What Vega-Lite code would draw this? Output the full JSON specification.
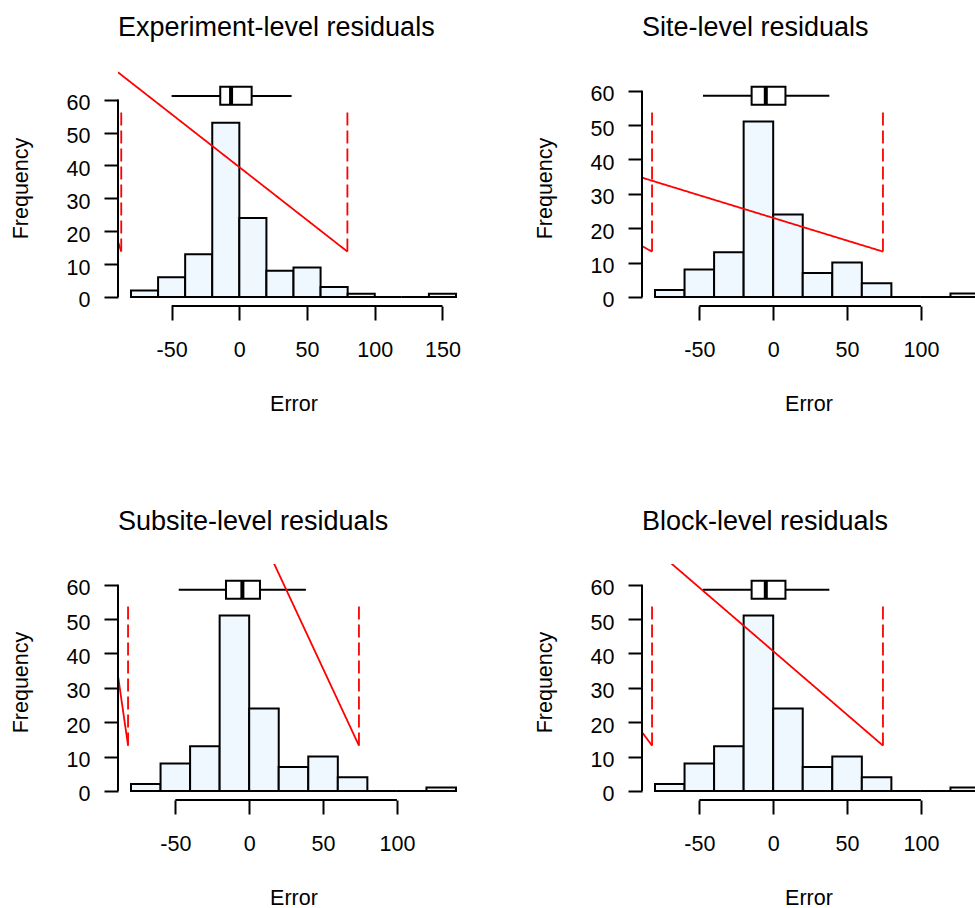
{
  "$schema": "https://vega.github.io/schema/vega-lite/v6.json",
  "background": "white",
  "padding": {"left": 10, "top": 14, "right": 0, "bottom": 0},
  "datasets": {
    "hist": [
      {"panel": 1, "lo": -80, "hi": -60, "count": 2},
      {"panel": 1, "lo": -60, "hi": -40, "count": 6},
      {"panel": 1, "lo": -40, "hi": -20, "count": 13},
      {"panel": 1, "lo": -20, "hi": 0, "count": 53},
      {"panel": 1, "lo": 0, "hi": 20, "count": 24},
      {"panel": 1, "lo": 20, "hi": 40, "count": 8},
      {"panel": 1, "lo": 40, "hi": 60, "count": 9},
      {"panel": 1, "lo": 60, "hi": 80, "count": 3},
      {"panel": 1, "lo": 80, "hi": 100, "count": 1},
      {"panel": 1, "lo": 100, "hi": 120, "count": 0},
      {"panel": 1, "lo": 120, "hi": 140, "count": 0},
      {"panel": 1, "lo": 140, "hi": 160, "count": 1},
      {"panel": 2, "lo": -80, "hi": -60, "count": 2},
      {"panel": 2, "lo": -60, "hi": -40, "count": 8},
      {"panel": 2, "lo": -40, "hi": -20, "count": 13},
      {"panel": 2, "lo": -20, "hi": 0, "count": 51},
      {"panel": 2, "lo": 0, "hi": 20, "count": 24},
      {"panel": 2, "lo": 20, "hi": 40, "count": 7},
      {"panel": 2, "lo": 40, "hi": 60, "count": 10},
      {"panel": 2, "lo": 60, "hi": 80, "count": 4},
      {"panel": 2, "lo": 80, "hi": 100, "count": 0},
      {"panel": 2, "lo": 100, "hi": 120, "count": 0},
      {"panel": 2, "lo": 120, "hi": 140, "count": 1},
      {"panel": 3, "lo": -80, "hi": -60, "count": 2},
      {"panel": 3, "lo": -60, "hi": -40, "count": 8},
      {"panel": 3, "lo": -40, "hi": -20, "count": 13},
      {"panel": 3, "lo": -20, "hi": 0, "count": 51},
      {"panel": 3, "lo": 0, "hi": 20, "count": 24},
      {"panel": 3, "lo": 20, "hi": 40, "count": 7},
      {"panel": 3, "lo": 40, "hi": 60, "count": 10},
      {"panel": 3, "lo": 60, "hi": 80, "count": 4},
      {"panel": 3, "lo": 80, "hi": 100, "count": 0},
      {"panel": 3, "lo": 100, "hi": 120, "count": 0},
      {"panel": 3, "lo": 120, "hi": 140, "count": 1},
      {"panel": 4, "lo": -80, "hi": -60, "count": 2},
      {"panel": 4, "lo": -60, "hi": -40, "count": 8},
      {"panel": 4, "lo": -40, "hi": -20, "count": 13},
      {"panel": 4, "lo": -20, "hi": 0, "count": 51},
      {"panel": 4, "lo": 0, "hi": 20, "count": 24},
      {"panel": 4, "lo": 20, "hi": 40, "count": 7},
      {"panel": 4, "lo": 40, "hi": 60, "count": 10},
      {"panel": 4, "lo": 60, "hi": 80, "count": 4},
      {"panel": 4, "lo": 80, "hi": 100, "count": 0},
      {"panel": 4, "lo": 100, "hi": 120, "count": 0},
      {"panel": 4, "lo": 120, "hi": 140, "count": 1}
    ],
    "box": [
      {"panel": 1, "wlo": -50, "whi": 38.6, "q1": -14.1, "q3": 9.1, "med": -6.1},
      {"panel": 2, "wlo": -47.5, "whi": 38, "q1": -14.6, "q3": 8.3, "med": -5.0},
      {"panel": 3, "wlo": -47.7, "whi": 38.4, "q1": -15.7, "q3": 7.3, "med": -4.6},
      {"panel": 4, "wlo": -47.5, "whi": 38, "q1": -14.6, "q3": 8.3, "med": -5.0}
    ],
    "seg": [
      {"panel": 1, "kind": "dash", "x": -87.2, "y": 13.8, "x2": -87.2, "y2": 56.5},
      {"panel": 1, "kind": "dash", "x": 79.8, "y": 13.8, "x2": 79.8, "y2": 56.5},
      {"panel": 1, "kind": "solid", "x": -89.6, "y": 68.3, "x2": 79.8, "y2": 13.8},
      {"panel": 1, "kind": "solid", "x": -89.6, "y": 16.8, "x2": -87.2, "y2": 13.8},
      {"panel": 2, "kind": "dash", "x": -82, "y": 13.2, "x2": -82, "y2": 54.1},
      {"panel": 2, "kind": "dash", "x": 74.3, "y": 13.2, "x2": 74.3, "y2": 54.1},
      {"panel": 2, "kind": "solid", "x": -88.8, "y": 34.7, "x2": 74.3, "y2": 13.2},
      {"panel": 2, "kind": "solid", "x": -88.8, "y": 14.8, "x2": -82, "y2": 13.2},
      {"panel": 3, "kind": "dash", "x": -82, "y": 13.2, "x2": -82, "y2": 54.1},
      {"panel": 3, "kind": "dash", "x": 74.3, "y": 13.2, "x2": 74.3, "y2": 54.1},
      {"panel": 3, "kind": "solid", "x": 7.2, "y": 75, "x2": 74.3, "y2": 13.2},
      {"panel": 3, "kind": "solid", "x": -88.8, "y": 33.5, "x2": -82, "y2": 13.2},
      {"panel": 4, "kind": "dash", "x": -82, "y": 13.2, "x2": -82, "y2": 54.1},
      {"panel": 4, "kind": "dash", "x": 74.3, "y": 13.2, "x2": 74.3, "y2": 54.1},
      {"panel": 4, "kind": "solid", "x": -88.8, "y": 73.5, "x2": 74.3, "y2": 13.2},
      {"panel": 4, "kind": "solid", "x": -88.8, "y": 17.1, "x2": -82, "y2": 13.2}
    ]
  },
  "vconcat": [
    {
      "spacing": 65,
      "hconcat": [
        {
          "width": 351, "height": 236,
          "title": "Experiment-level residuals",
          "layer": [
            {
              "data": {"name": "hist"},
              "transform": [{"filter": "datum.panel === 1"}],
              "mark": {"type": "rect", "fill": "#F0F8FF", "stroke": "black", "strokeWidth": 2, "clip": true},
              "encoding": {
                "x": {"field": "lo", "type": "quantitative", "scale": {"domain": [-89.6, 169.6], "nice": false, "zero": false}, "axis": {"values": [-50, 0, 50, 100, 150], "title": "Error", "labelExpr": "replace(datum.label, '−', '-')"}},
                "x2": {"field": "hi"},
                "y": {"field": "count", "type": "quantitative", "scale": {"domain": [-2.74, 69], "nice": false, "zero": false}, "axis": {"values": [0, 10, 20, 30, 40, 50, 60], "title": "Frequency"}},
                "y2": {"datum": 0}
              }
            },
            {
              "data": {"name": "box"},
              "transform": [{"filter": "datum.panel === 1"}],
              "layer": [
                {"mark": {"type": "rule", "color": "black", "strokeWidth": 2}, "encoding": {"x": {"field": "wlo", "type": "quantitative", "axis": {"values": [-50, 0, 50, 100, 150], "title": "Error", "labelExpr": "replace(datum.label, '−', '-')"}}, "x2": {"field": "whi"}, "y": {"datum": 61.1, "type": "quantitative", "axis": {"values": [0, 10, 20, 30, 40, 50, 60], "title": "Frequency"}}}},
                {"mark": {"type": "rect", "fill": "white", "stroke": "black", "strokeWidth": 2}, "encoding": {"x": {"field": "q1", "type": "quantitative", "axis": {"values": [-50, 0, 50, 100, 150], "title": "Error", "labelExpr": "replace(datum.label, '−', '-')"}}, "x2": {"field": "q3"}, "y": {"datum": 58.4, "type": "quantitative", "axis": {"values": [0, 10, 20, 30, 40, 50, 60], "title": "Frequency"}}, "y2": {"datum": 63.9}}},
                {"mark": {"type": "rule", "color": "black", "strokeWidth": 4}, "encoding": {"x": {"field": "med", "type": "quantitative", "axis": {"values": [-50, 0, 50, 100, 150], "title": "Error", "labelExpr": "replace(datum.label, '−', '-')"}}, "y": {"datum": 58.4, "type": "quantitative", "axis": {"values": [0, 10, 20, 30, 40, 50, 60], "title": "Frequency"}}, "y2": {"datum": 63.9}}}
              ]
            },
            {
              "data": {"name": "seg"},
              "transform": [{"filter": "datum.panel === 1"}],
              "mark": {"type": "rule", "color": "#FF0000", "strokeWidth": 1.8, "clip": true},
              "encoding": {
                "x": {"field": "x", "type": "quantitative", "axis": {"values": [-50, 0, 50, 100, 150], "title": "Error", "labelExpr": "replace(datum.label, '−', '-')"}}, "x2": {"field": "x2"},
                "y": {"field": "y", "type": "quantitative", "axis": {"values": [0, 10, 20, 30, 40, 50, 60], "title": "Frequency"}}, "y2": {"field": "y2"},
                "strokeDash": {"field": "kind", "type": "nominal", "scale": {"domain": ["solid", "dash"], "range": [[1, 0], [13, 5]]}, "legend": null}
              }
            },
            {
              "data": {"values": [{}]},
              "layer": [
                {"mark": {"type": "rule", "color": "black", "strokeWidth": 2}, "encoding": {"x": {"datum": -89.6, "type": "quantitative", "axis": {"values": [-50, 0, 50, 100, 150], "title": "Error", "labelExpr": "replace(datum.label, '−', '-')"}}, "y": {"datum": 0, "type": "quantitative", "axis": {"values": [0, 10, 20, 30, 40, 50, 60], "title": "Frequency"}}, "y2": {"datum": 60}}},
                {"mark": {"type": "rule", "color": "black", "strokeWidth": 2}, "encoding": {"y": {"datum": -2.74, "type": "quantitative", "axis": {"values": [0, 10, 20, 30, 40, 50, 60], "title": "Frequency"}}, "x": {"datum": -50, "type": "quantitative", "axis": {"values": [-50, 0, 50, 100, 150], "title": "Error", "labelExpr": "replace(datum.label, '−', '-')"}}, "x2": {"datum": 150}}}
              ]
            }
          ]
        },
        {
          "width": 333, "height": 236,
          "title": "Site-level residuals",
          "layer": [
            {
              "data": {"name": "hist"},
              "transform": [{"filter": "datum.panel === 2"}],
              "mark": {"type": "rect", "fill": "#F0F8FF", "stroke": "black", "strokeWidth": 2, "clip": true},
              "encoding": {
                "x": {"field": "lo", "type": "quantitative", "scale": {"domain": [-88.8, 136.6], "nice": false, "zero": false}, "axis": {"values": [-50, 0, 50, 100], "title": "Error", "labelExpr": "replace(datum.label, '−', '-')"}},
                "x2": {"field": "hi"},
                "y": {"field": "count", "type": "quantitative", "scale": {"domain": [-2.62, 66], "nice": false, "zero": false}, "axis": {"values": [0, 10, 20, 30, 40, 50, 60], "title": "Frequency"}},
                "y2": {"datum": 0}
              }
            },
            {
              "data": {"name": "box"},
              "transform": [{"filter": "datum.panel === 2"}],
              "layer": [
                {"mark": {"type": "rule", "color": "black", "strokeWidth": 2}, "encoding": {"x": {"field": "wlo", "type": "quantitative", "axis": {"values": [-50, 0, 50, 100], "title": "Error", "labelExpr": "replace(datum.label, '−', '-')"}}, "x2": {"field": "whi"}, "y": {"datum": 58.5, "type": "quantitative", "axis": {"values": [0, 10, 20, 30, 40, 50, 60], "title": "Frequency"}}}},
                {"mark": {"type": "rect", "fill": "white", "stroke": "black", "strokeWidth": 2}, "encoding": {"x": {"field": "q1", "type": "quantitative", "axis": {"values": [-50, 0, 50, 100], "title": "Error", "labelExpr": "replace(datum.label, '−', '-')"}}, "x2": {"field": "q3"}, "y": {"datum": 55.9, "type": "quantitative", "axis": {"values": [0, 10, 20, 30, 40, 50, 60], "title": "Frequency"}}, "y2": {"datum": 61.1}}},
                {"mark": {"type": "rule", "color": "black", "strokeWidth": 4}, "encoding": {"x": {"field": "med", "type": "quantitative", "axis": {"values": [-50, 0, 50, 100], "title": "Error", "labelExpr": "replace(datum.label, '−', '-')"}}, "y": {"datum": 55.9, "type": "quantitative", "axis": {"values": [0, 10, 20, 30, 40, 50, 60], "title": "Frequency"}}, "y2": {"datum": 61.1}}}
              ]
            },
            {
              "data": {"name": "seg"},
              "transform": [{"filter": "datum.panel === 2"}],
              "mark": {"type": "rule", "color": "#FF0000", "strokeWidth": 1.8, "clip": true},
              "encoding": {
                "x": {"field": "x", "type": "quantitative", "axis": {"values": [-50, 0, 50, 100], "title": "Error", "labelExpr": "replace(datum.label, '−', '-')"}}, "x2": {"field": "x2"},
                "y": {"field": "y", "type": "quantitative", "axis": {"values": [0, 10, 20, 30, 40, 50, 60], "title": "Frequency"}}, "y2": {"field": "y2"},
                "strokeDash": {"field": "kind", "type": "nominal", "scale": {"domain": ["solid", "dash"], "range": [[1, 0], [13, 5]]}, "legend": null}
              }
            },
            {
              "data": {"values": [{}]},
              "layer": [
                {"mark": {"type": "rule", "color": "black", "strokeWidth": 2}, "encoding": {"x": {"datum": -88.8, "type": "quantitative", "axis": {"values": [-50, 0, 50, 100], "title": "Error", "labelExpr": "replace(datum.label, '−', '-')"}}, "y": {"datum": 0, "type": "quantitative", "axis": {"values": [0, 10, 20, 30, 40, 50, 60], "title": "Frequency"}}, "y2": {"datum": 60}}},
                {"mark": {"type": "rule", "color": "black", "strokeWidth": 2}, "encoding": {"y": {"datum": -2.62, "type": "quantitative", "axis": {"values": [0, 10, 20, 30, 40, 50, 60], "title": "Frequency"}}, "x": {"datum": -50, "type": "quantitative", "axis": {"values": [-50, 0, 50, 100], "title": "Error", "labelExpr": "replace(datum.label, '−', '-')"}}, "x2": {"datum": 100}}}
              ]
            }
          ]
        }
      ]
    },
    {
      "spacing": 65,
      "hconcat": [
        {
          "width": 351, "height": 236,
          "title": "Subsite-level residuals",
          "layer": [
            {
              "data": {"name": "hist"},
              "transform": [{"filter": "datum.panel === 3"}],
              "mark": {"type": "rect", "fill": "#F0F8FF", "stroke": "black", "strokeWidth": 2, "clip": true},
              "encoding": {
                "x": {"field": "lo", "type": "quantitative", "scale": {"domain": [-88.8, 148.8], "nice": false, "zero": false}, "axis": {"values": [-50, 0, 50, 100], "title": "Error", "labelExpr": "replace(datum.label, '−', '-')"}},
                "x2": {"field": "hi"},
                "y": {"field": "count", "type": "quantitative", "scale": {"domain": [-2.62, 66], "nice": false, "zero": false}, "axis": {"values": [0, 10, 20, 30, 40, 50, 60], "title": "Frequency"}},
                "y2": {"datum": 0}
              }
            },
            {
              "data": {"name": "box"},
              "transform": [{"filter": "datum.panel === 3"}],
              "layer": [
                {"mark": {"type": "rule", "color": "black", "strokeWidth": 2}, "encoding": {"x": {"field": "wlo", "type": "quantitative", "axis": {"values": [-50, 0, 50, 100], "title": "Error", "labelExpr": "replace(datum.label, '−', '-')"}}, "x2": {"field": "whi"}, "y": {"datum": 58.5, "type": "quantitative", "axis": {"values": [0, 10, 20, 30, 40, 50, 60], "title": "Frequency"}}}},
                {"mark": {"type": "rect", "fill": "white", "stroke": "black", "strokeWidth": 2}, "encoding": {"x": {"field": "q1", "type": "quantitative", "axis": {"values": [-50, 0, 50, 100], "title": "Error", "labelExpr": "replace(datum.label, '−', '-')"}}, "x2": {"field": "q3"}, "y": {"datum": 55.9, "type": "quantitative", "axis": {"values": [0, 10, 20, 30, 40, 50, 60], "title": "Frequency"}}, "y2": {"datum": 61.1}}},
                {"mark": {"type": "rule", "color": "black", "strokeWidth": 4}, "encoding": {"x": {"field": "med", "type": "quantitative", "axis": {"values": [-50, 0, 50, 100], "title": "Error", "labelExpr": "replace(datum.label, '−', '-')"}}, "y": {"datum": 55.9, "type": "quantitative", "axis": {"values": [0, 10, 20, 30, 40, 50, 60], "title": "Frequency"}}, "y2": {"datum": 61.1}}}
              ]
            },
            {
              "data": {"name": "seg"},
              "transform": [{"filter": "datum.panel === 3"}],
              "mark": {"type": "rule", "color": "#FF0000", "strokeWidth": 1.8, "clip": true},
              "encoding": {
                "x": {"field": "x", "type": "quantitative", "axis": {"values": [-50, 0, 50, 100], "title": "Error", "labelExpr": "replace(datum.label, '−', '-')"}}, "x2": {"field": "x2"},
                "y": {"field": "y", "type": "quantitative", "axis": {"values": [0, 10, 20, 30, 40, 50, 60], "title": "Frequency"}}, "y2": {"field": "y2"},
                "strokeDash": {"field": "kind", "type": "nominal", "scale": {"domain": ["solid", "dash"], "range": [[1, 0], [13, 5]]}, "legend": null}
              }
            },
            {
              "data": {"values": [{}]},
              "layer": [
                {"mark": {"type": "rule", "color": "black", "strokeWidth": 2}, "encoding": {"x": {"datum": -88.8, "type": "quantitative", "axis": {"values": [-50, 0, 50, 100], "title": "Error", "labelExpr": "replace(datum.label, '−', '-')"}}, "y": {"datum": 0, "type": "quantitative", "axis": {"values": [0, 10, 20, 30, 40, 50, 60], "title": "Frequency"}}, "y2": {"datum": 60}}},
                {"mark": {"type": "rule", "color": "black", "strokeWidth": 2}, "encoding": {"y": {"datum": -2.62, "type": "quantitative", "axis": {"values": [0, 10, 20, 30, 40, 50, 60], "title": "Frequency"}}, "x": {"datum": -50, "type": "quantitative", "axis": {"values": [-50, 0, 50, 100], "title": "Error", "labelExpr": "replace(datum.label, '−', '-')"}}, "x2": {"datum": 100}}}
              ]
            }
          ]
        },
        {
          "width": 333, "height": 236,
          "title": "Block-level residuals",
          "layer": [
            {
              "data": {"name": "hist"},
              "transform": [{"filter": "datum.panel === 4"}],
              "mark": {"type": "rect", "fill": "#F0F8FF", "stroke": "black", "strokeWidth": 2, "clip": true},
              "encoding": {
                "x": {"field": "lo", "type": "quantitative", "scale": {"domain": [-88.8, 136.6], "nice": false, "zero": false}, "axis": {"values": [-50, 0, 50, 100], "title": "Error", "labelExpr": "replace(datum.label, '−', '-')"}},
                "x2": {"field": "hi"},
                "y": {"field": "count", "type": "quantitative", "scale": {"domain": [-2.62, 66], "nice": false, "zero": false}, "axis": {"values": [0, 10, 20, 30, 40, 50, 60], "title": "Frequency"}},
                "y2": {"datum": 0}
              }
            },
            {
              "data": {"name": "box"},
              "transform": [{"filter": "datum.panel === 4"}],
              "layer": [
                {"mark": {"type": "rule", "color": "black", "strokeWidth": 2}, "encoding": {"x": {"field": "wlo", "type": "quantitative", "axis": {"values": [-50, 0, 50, 100], "title": "Error", "labelExpr": "replace(datum.label, '−', '-')"}}, "x2": {"field": "whi"}, "y": {"datum": 58.5, "type": "quantitative", "axis": {"values": [0, 10, 20, 30, 40, 50, 60], "title": "Frequency"}}}},
                {"mark": {"type": "rect", "fill": "white", "stroke": "black", "strokeWidth": 2}, "encoding": {"x": {"field": "q1", "type": "quantitative", "axis": {"values": [-50, 0, 50, 100], "title": "Error", "labelExpr": "replace(datum.label, '−', '-')"}}, "x2": {"field": "q3"}, "y": {"datum": 55.9, "type": "quantitative", "axis": {"values": [0, 10, 20, 30, 40, 50, 60], "title": "Frequency"}}, "y2": {"datum": 61.1}}},
                {"mark": {"type": "rule", "color": "black", "strokeWidth": 4}, "encoding": {"x": {"field": "med", "type": "quantitative", "axis": {"values": [-50, 0, 50, 100], "title": "Error", "labelExpr": "replace(datum.label, '−', '-')"}}, "y": {"datum": 55.9, "type": "quantitative", "axis": {"values": [0, 10, 20, 30, 40, 50, 60], "title": "Frequency"}}, "y2": {"datum": 61.1}}}
              ]
            },
            {
              "data": {"name": "seg"},
              "transform": [{"filter": "datum.panel === 4"}],
              "mark": {"type": "rule", "color": "#FF0000", "strokeWidth": 1.8, "clip": true},
              "encoding": {
                "x": {"field": "x", "type": "quantitative", "axis": {"values": [-50, 0, 50, 100], "title": "Error", "labelExpr": "replace(datum.label, '−', '-')"}}, "x2": {"field": "x2"},
                "y": {"field": "y", "type": "quantitative", "axis": {"values": [0, 10, 20, 30, 40, 50, 60], "title": "Frequency"}}, "y2": {"field": "y2"},
                "strokeDash": {"field": "kind", "type": "nominal", "scale": {"domain": ["solid", "dash"], "range": [[1, 0], [13, 5]]}, "legend": null}
              }
            },
            {
              "data": {"values": [{}]},
              "layer": [
                {"mark": {"type": "rule", "color": "black", "strokeWidth": 2}, "encoding": {"x": {"datum": -88.8, "type": "quantitative", "axis": {"values": [-50, 0, 50, 100], "title": "Error", "labelExpr": "replace(datum.label, '−', '-')"}}, "y": {"datum": 0, "type": "quantitative", "axis": {"values": [0, 10, 20, 30, 40, 50, 60], "title": "Frequency"}}, "y2": {"datum": 60}}},
                {"mark": {"type": "rule", "color": "black", "strokeWidth": 2}, "encoding": {"y": {"datum": -2.62, "type": "quantitative", "axis": {"values": [0, 10, 20, 30, 40, 50, 60], "title": "Frequency"}}, "x": {"datum": -50, "type": "quantitative", "axis": {"values": [-50, 0, 50, 100], "title": "Error", "labelExpr": "replace(datum.label, '−', '-')"}}, "x2": {"datum": 100}}}
              ]
            }
          ]
        }
      ]
    }
  ],
  "spacing": 93,
  "config": {
    "view": {"stroke": null},
    "font": "Liberation Sans",
    "axis": {
      "domain": false, "grid": false, "ticks": true,
      "tickColor": "black", "tickWidth": 2, "tickSize": 14,
      "labelColor": "black", "labelFont": "Liberation Sans", "labelFontSize": 21.5,
      "titleColor": "black", "titleFont": "Liberation Sans", "titleFontSize": 21.5, "titleFontWeight": "normal",
      "labelFlush": false, "labelOverlap": false
    },
    "axisY": {"labelAngle": 0, "labelPadding": 14, "labelOffset": 4, "titlePadding": 34},
    "axisX": {"labelPadding": 19.5, "titlePadding": 32},
    "title": {"anchor": "start", "frame": "group", "fontSize": 27, "fontWeight": "normal", "font": "Liberation Sans", "color": "black", "offset": 28, "baseline": "alphabetic"}
  }
}
